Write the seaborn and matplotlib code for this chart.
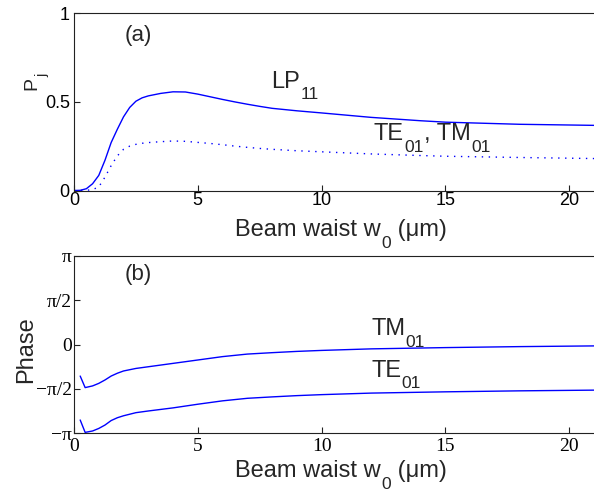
import numpy as np
import pandas as pd
import matplotlib
matplotlib.use("Agg")
import matplotlib.pyplot as plt
import seaborn as sns

# ---- data ----
w0_a = [0, 0.25, 0.5, 0.75, 1.0, 1.25, 1.5, 1.75, 2.0, 2.25, 2.5, 2.75, 3.0, 3.5,
        4.0, 4.5, 5.0, 5.5, 6.0, 6.5, 7.0, 7.5, 8.0, 9.0, 10.0, 12.0, 14.0, 15.0,
        18.0, 21.0]
p_lp11 = [0, 0.001, 0.01, 0.038, 0.085, 0.17, 0.27, 0.345, 0.415, 0.468, 0.503, 0.522,
          0.533, 0.547, 0.556, 0.555, 0.543, 0.528, 0.513, 0.499, 0.486, 0.474,
          0.463, 0.449, 0.437, 0.412, 0.393, 0.385, 0.373, 0.367]
p_te_tm = [0, 0.0, 0.001, 0.005, 0.02, 0.075, 0.14, 0.195, 0.232, 0.25, 0.26, 0.266,
           0.27, 0.275, 0.279, 0.277, 0.271, 0.265, 0.258, 0.25, 0.243, 0.237,
           0.232, 0.224, 0.218, 0.206, 0.197, 0.193, 0.186, 0.18]

w0_b = [0.25, 0.45, 0.75, 1.0, 1.25, 1.5, 1.75, 2.0, 2.5, 3.0, 4.0, 5.0, 6.0, 7.0,
        8.0, 9.0, 10.0, 12.0, 15.0, 18.0, 21.0]
phase_tm = [-1.12, -1.53, -1.47, -1.38, -1.26, -1.12, -1.02, -0.94, -0.85, -0.79,
            -0.67, -0.55, -0.43, -0.34, -0.29, -0.245, -0.21, -0.155, -0.11, -0.075,
            -0.05]
phase_te = [-2.68, -3.12, -3.07, -2.98, -2.86, -2.70, -2.60, -2.53, -2.42, -2.36,
            -2.25, -2.12, -2.0, -1.91, -1.86, -1.815, -1.78, -1.725, -1.68, -1.645,
            -1.62]

xticks = [0, 5, 10, 15, 20]
yticks_a = [0, 0.5, 1]
yticklabels_a = ["0", "0.5", "1"]
yticks_b = [-np.pi, -np.pi / 2, 0, np.pi / 2, np.pi]
yticklabels_b = ["\u2212\u03c0", "\u2212\u03c0/2", "0", "\u03c0/2", "\u03c0"]

sns.set_theme(style="ticks")
plt.rcParams["font.family"] = ["Liberation Sans", "DejaVu Sans"]
plt.rcParams["xtick.direction"] = "in"
plt.rcParams["ytick.direction"] = "in"
plt.rcParams["axes.linewidth"] = 0.8
plt.rcParams["axes.edgecolor"] = "#222222"

W, H = 594, 491
fig = plt.figure(figsize=(W / 100, H / 100), dpi=100)
ax1 = fig.add_axes([74 / W, 1 - 190.5 / H, (594 - 74) / W, (190.5 - 13) / H])
ax2 = fig.add_axes([74 / W, 1 - 433 / H, (594 - 74) / W, (433 - 256) / H])

df_a = pd.DataFrame({"w0": w0_a, "lp": p_lp11, "tt": p_te_tm})
df_b = pd.DataFrame({"w0": w0_b, "tm": phase_tm, "te": phase_te})

sns.lineplot(data=df_a, x="w0", y="lp", ax=ax1, color="blue", lw=1.0)
sns.lineplot(data=df_a, x="w0", y="tt", ax=ax1, color="blue", lw=1.0,
             linestyle=(0, (1, 4)))
sns.lineplot(data=df_b, x="w0", y="tm", ax=ax2, color="blue", lw=1.0)
sns.lineplot(data=df_b, x="w0", y="te", ax=ax2, color="blue", lw=1.0)

FS, SFS, DROP = 17, 12.5, 7.0


def chain(ax, x, y, parts, transform, fs=FS, sfs=SFS, drop=DROP):
    """Text with MATLAB-like (lowered) subscripts. parts: list of (str, is_sub)."""
    base = ax.text(x, y, parts[0][0], fontsize=fs, ha="left", va="baseline",
                   transform=transform)
    arts = [base]
    prev = base
    for s, is_sub in parts[1:]:
        a = ax.annotate(s, xy=(1, 0), xycoords=(prev, base),
                        xytext=(0.3, -drop if is_sub else 0),
                        textcoords="offset points",
                        fontsize=sfs if is_sub else fs, ha="left", va="bottom")
        arts.append(a)
        prev = a
    return arts


for ax in (ax1, ax2):
    ax.set_xlim(0, 21)
    ax.set_xticks(xticks)
    ax.spines["right"].set_visible(False)
    ax.tick_params(length=4, width=0.8, colors="#222222", labelcolor="black")
    ax.set_xlabel("")
    ax.set_ylabel("")

ax1.set_ylim(0, 1)
ax1.set_yticks(yticks_a)
ax1.set_yticklabels(yticklabels_a)
ax1.tick_params(axis="x", labelsize=13, pad=1)
ax1.tick_params(axis="y", labelsize=13, pad=3)
ax1.text(2.58, 0.876, "(a)", fontsize=16, ha="center", va="center")
chain(ax1, 7.98, 0.58, [("LP", False), ("11", True)], ax1.transData)
chain(ax1, 12.1, 0.284, [("TE", False), ("01", True), (", TM", False), ("01", True)],
      ax1.transData)

ax2.set_ylim(-np.pi, np.pi)
ax2.set_yticks(yticks_b)
ax2.set_yticklabels(yticklabels_b)
for lab in ax2.get_xticklabels() + ax2.get_yticklabels():
    lab.set_fontfamily("Liberation Serif")
ax2.tick_params(axis="x", labelsize=14, pad=3.5)
ax2.tick_params(axis="y", labelsize=14, pad=1.5)
ax2.text(2.58, 2.50, "(b)", fontsize=16, ha="center", va="center")
chain(ax2, 12.0, 0.337, [("TM", False), ("01", True)], ax2.transData)
chain(ax2, 12.0, -1.143, [("TE", False), ("01", True)], ax2.transData)

# x labels (built from pieces so the subscript sits low, as in the original)
xl_parts = [("Beam waist w", False), ("0", True), (" (\u03bcm)", False)]
xl1 = chain(ax1, 0.0, 1 - 236 / H, xl_parts, fig.transFigure)
xl2 = chain(ax2, 0.0, 1 - 477 / H, xl_parts, fig.transFigure)

# y labels
ax2.text(37 / W, 1 - 350 / H, "Phase", fontsize=17, rotation=90,
         ha="right", va="center", transform=fig.transFigure)
pj = ax1.text(40 / W, 1 - 90 / H, "P", fontsize=14, rotation=90,
              ha="right", va="bottom", transform=fig.transFigure)
ax1.annotate("j", xy=(1, 1), xycoords=pj, xytext=(7.0, 0.3),
             textcoords="offset points", fontsize=10.5, rotation=90,
             ha="right", va="bottom")

# centre the x labels
fig.canvas.draw()
r = fig.canvas.get_renderer()
for arts in (xl1, xl2):
    bbs = [a.get_window_extent(r) for a in arts]
    x0 = min(b.x0 for b in bbs)
    x1 = max(b.x1 for b in bbs)
    width = x1 - x0
    cx = 341.0
    base = arts[0]
    bx, by = base.get_position()
    base.set_position(((cx - width / 2) / W, by))

fig.savefig("out.png", dpi=100)
